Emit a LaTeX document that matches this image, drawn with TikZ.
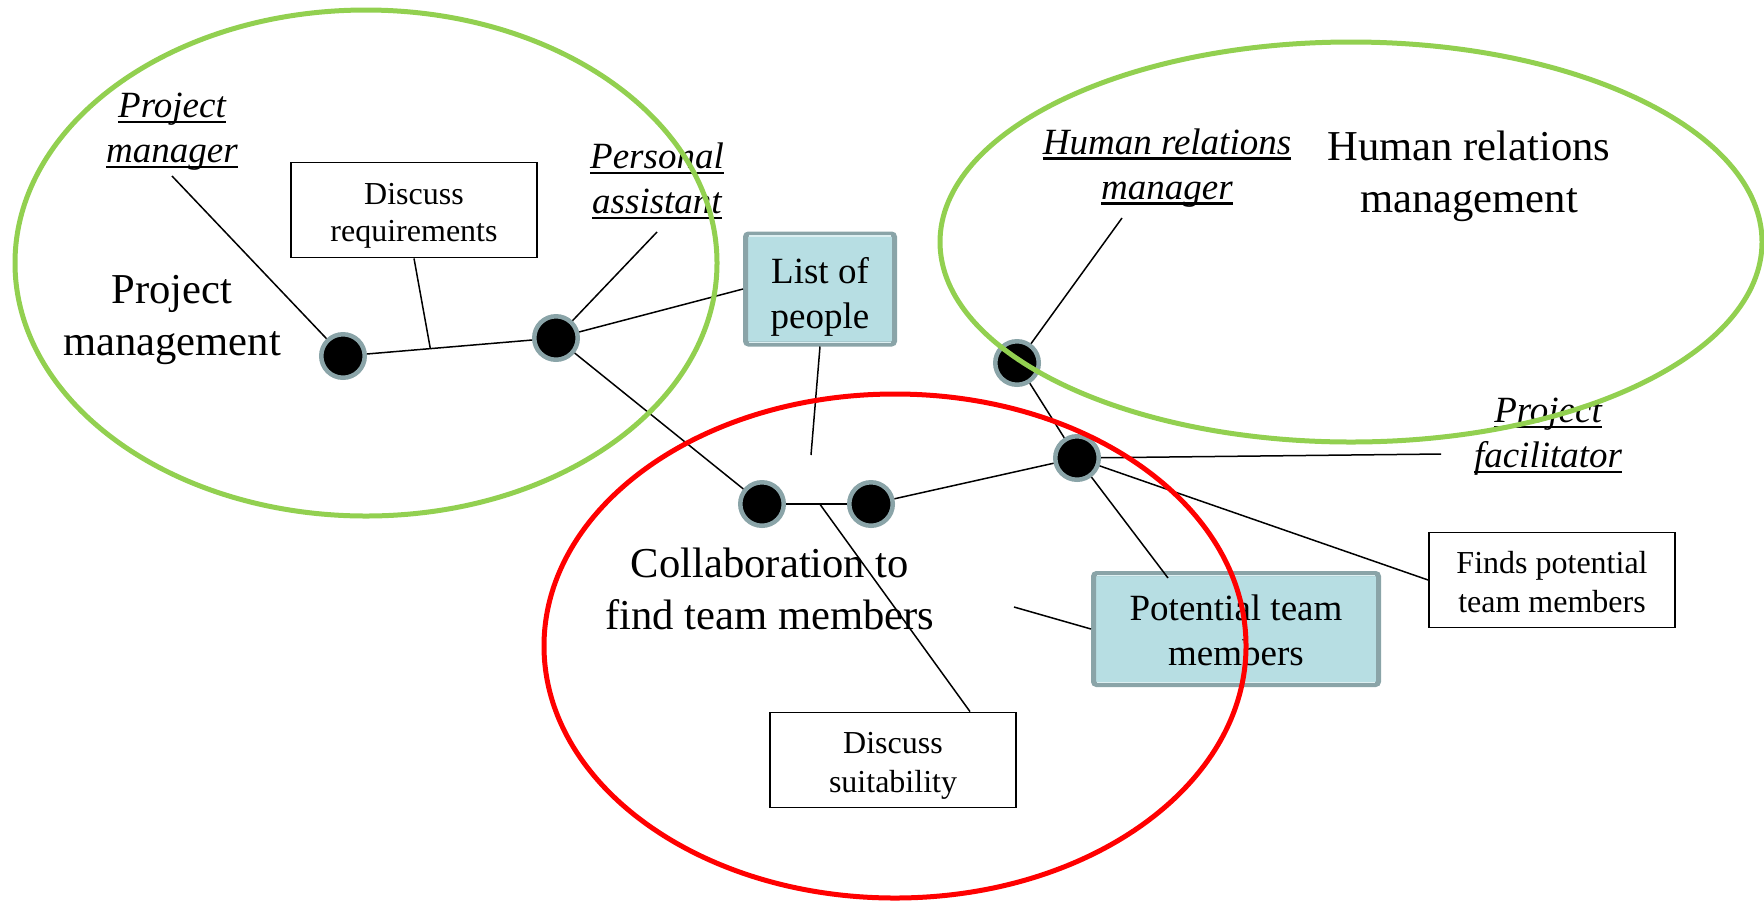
\documentclass[tikz,border=0pt]{standalone}
\usepackage{fontspec}
\setmainfont{Liberation Serif}
\usetikzlibrary{calc}
\definecolor{leafgreen}{HTML}{92D050}
\definecolor{dotrim}{HTML}{8AA4A8}
\definecolor{cylfill}{HTML}{B7DEE3}
\definecolor{cylshine}{HTML}{DDEFF1}
% underline with a firmer rule than \underline gives
\newcommand{\ulword}[1]{\setbox0=\hbox{#1}\rlap{\rule[-2.6pt]{\wd0}{1.2pt}}\box0}
% invisible strut that lowers the text block inside a fixed-height box
\newcommand{\topgap}[1]{\rule{0pt}{#1}}

\begin{document}
\begin{tikzpicture}[x=0.5pt,y=-0.5pt,
  dot/.style={circle,fill=black,draw=dotrim,line width=2.25pt,minimum size=21.75pt,inner sep=0pt},
  link/.style={draw=black,line width=0.75pt},
  actbox/.style={draw=black,line width=0.9pt,fill=white,minimum width=123pt,minimum height=47.5pt,
    align=center,font=\fontsize{16pt}{18.8pt}\selectfont,inner sep=0pt},
  store/.style={draw=dotrim,fill=cylfill,line width=2.5pt,rounded corners=1.5pt,align=center,
    font=\fontsize{18.5pt}{22.5pt}\selectfont,inner sep=0pt},
  role/.style={align=center,font=\fontsize{18.5pt}{22.5pt}\selectfont\itshape,inner sep=0pt},
  area/.style={align=center,font=\fontsize{21.3pt}{26pt}\selectfont,inner sep=0pt},
  zone/.style={line width=2.5pt}
]
\useasboundingbox (0,0) rectangle (1764,901);

% participants (dots)
\node[dot] (pm) at (343,356) {};
\node[dot] (pa) at (556,338) {};
\node[dot] (c1) at (762,504) {};
\node[dot] (c2) at (871,504) {};
\node[dot] (pf) at (1077,458) {};
\node[dot] (hr) at (1017,363) {};

% role labels
\node[role] (pmlab) at (172,132) {\ulword{Project}\\\ulword{manager}};
\node[role] (palab) at (657,181) {\ulword{Personal}\\\ulword{assistant}};
\node[role] (hrlab) at (1167,168) {\ulword{Human relations}\\\ulword{manager}};
\node[role] (pflab) at (1548,437) {\ulword{Project}\\\ulword{facilitator}};

% area titles
\node[area] (pmarea) at (172,320) {Project\\management};
\node[area] (hrarea) at (1469,176) {Human relations\\management};
\node[area] (colarea) at (770,589) {Collaboration to\\find team members};

% activities
\node[actbox] (dr) at (414,210) {\topgap{16.4pt}Discuss\\requirements};
\node[actbox,font=\fontsize{16pt}{19.5pt}\selectfont] (ds) at (893,760) {\topgap{16.6pt}Discuss\\suitability};
\node[actbox,font=\fontsize{16pt}{19.5pt}\selectfont] (fp) at (1552,580) {\topgap{13.6pt}Finds potential\\team members};

% data stores
\node[store,minimum width=74.5pt,minimum height=55pt] (lp) at (820,289) {\topgap{20.6pt}List of\\people};
\node[store,minimum width=142.5pt,minimum height=55.5pt] (pt) at (1236,629) {\topgap{14.6pt}Potential team\\members};
\foreach \s in {lp,pt}{
  \draw[cylshine,line width=0.8pt] ([xshift=3pt,yshift=-2.2pt]\s.north west) -- ([xshift=-3pt,yshift=-2.2pt]\s.north east);
  \draw[cylshine,line width=0.6pt] ([xshift=3pt,yshift=2.2pt]\s.south west) -- ([xshift=-3pt,yshift=2.2pt]\s.south east);
}

% free ends and junctions
\coordinate (pmpa) at ($(pm)!0.41!(pa)$);
\coordinate (c12) at ($(c1)!0.53!(c2)$);
\coordinate (lpend) at (811,455);
\coordinate (ptend) at (1014,607);
\coordinate (pflink) at (1441,454);
\coordinate (pmtail) at (172,176);
\coordinate (patail) at (657,232);
\coordinate (hrtail) at (1122,218);

% connectors
\draw[link] (pmtail) -- (pm);
\draw[link] (patail) -- (pa);
\draw[link] (hrtail) -- (hr);
\draw[link] (pm) -- (pa);
\draw[link] (dr.south) -- (pmpa);
\draw[link] (pa) -- (lp.west);
\draw[link] (lp.south) -- (lpend);
\draw[link] (pa) -- (c1);
\draw[link] (c1) -- (c2);
\draw[link] (c12) -- ([xshift=38.5pt]ds.north);
\draw[link] (c2) -- (pf);
\draw[link] (hr) -- (pf);
\draw[link] (pf) -- (pflink);
\draw[link] (pf) -- (fp.west);
\draw[link] (pf) -- ([xshift=-34pt,yshift=-3.5pt]pt.north);
\draw[link] (ptend) -- (pt.west);

% areas
\draw[zone,leafgreen] (366,263) ellipse [x radius=351, y radius=253];
\draw[zone,leafgreen] (1351,242) ellipse [x radius=411, y radius=200];
\draw[zone,red] (895,646) ellipse [x radius=351, y radius=252];
\end{tikzpicture}
\end{document}
